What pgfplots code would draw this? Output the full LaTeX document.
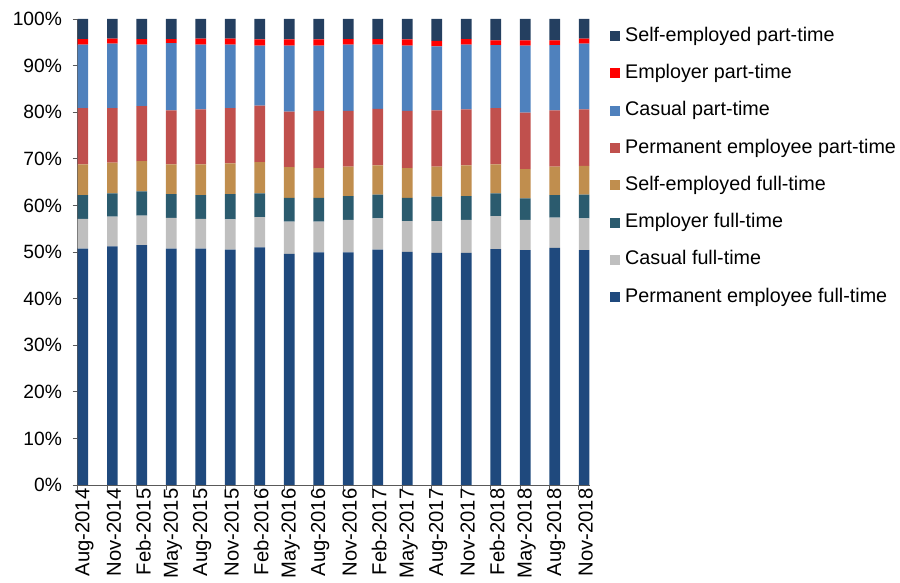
\documentclass[border=0pt]{standalone}
\usepackage{pgfplots}
\pgfplotsset{compat=1.18}
\usepackage{pgfplotstable}
\usepackage{fontspec}
\setmainfont{Liberation Sans}
\definecolor{cPFT}{HTML}{1F497D}
\definecolor{cCFT}{HTML}{BFBFBF}
\definecolor{cEFT}{HTML}{2B5B6E}
\definecolor{cSFT}{HTML}{C08E4E}
\definecolor{cPPT}{HTML}{C0504D}
\definecolor{cCPT}{HTML}{4F81BD}
\definecolor{cEPT}{HTML}{FF0000}
\definecolor{cSPT}{HTML}{243F60}
\pgfplotstableread{
x pft cft eft sft ppt cpt ept spt
0 50.7 6.4 5.1 6.6 12.1 13.6 1.2 4.3
1 51.2 6.4 5.0 6.6 11.7 13.8 1.1 4.2
2 51.5 6.3 5.2 6.5 11.8 13.2 1.2 4.3
3 50.7 6.6 5.1 6.4 11.6 14.4 0.9 4.3
4 50.7 6.4 5.1 6.6 11.8 13.9 1.3 4.2
5 50.5 6.5 5.4 6.6 11.9 13.6 1.3 4.2
6 51.0 6.5 5.1 6.7 12.1 12.9 1.3 4.4
7 49.6 6.9 5.1 6.6 11.9 14.2 1.3 4.4
8 49.9 6.6 5.1 6.4 12.3 14.0 1.3 4.4
9 49.9 7.0 5.1 6.3 12.0 14.2 1.2 4.3
10 50.5 6.7 5.1 6.3 12.1 13.8 1.2 4.3
11 50.0 6.6 5.0 6.4 12.3 14.0 1.3 4.4
12 49.8 6.8 5.3 6.4 12.1 13.7 1.2 4.7
13 49.8 7.1 5.1 6.6 12.0 13.9 1.2 4.3
14 50.6 7.1 4.9 6.2 12.1 13.5 1.0 4.6
15 50.4 6.5 4.6 6.3 12.1 14.4 1.1 4.6
16 50.9 6.5 4.8 6.1 12.1 14.0 1.0 4.6
17 50.4 6.8 5.1 6.2 12.1 14.1 1.1 4.2
}\data
\begin{document}
\begin{tikzpicture}
\path[use as bounding box] (0bp,0bp) rectangle (900bp,583bp);
\begin{axis}[
  at={(77.5bp,98bp)}, anchor=south west,
  scale only axis, width=512bp, height=466bp,
  ybar stacked, bar width=10.6bp,
  xmin=-0.18, xmax=17.18, ymin=0, ymax=100,
  axis x line*=bottom, axis y line*=left,
  axis line style={draw=black!65, line width=0.8bp},
  tick align=outside,
  major tick length=0bp, minor tick length=5bp,
  every tick/.style={draw=black!65, line width=0.8bp},
  xtick={0,...,17},
  minor xtick={-0.18,0.82,1.82,2.82,3.82,4.82,5.82,6.82,7.82,8.82,9.82,10.82,11.82,12.82,13.82,14.82,15.82,16.82},
  xticklabels={Aug-2014,Nov-2014,Feb-2015,May-2015,Aug-2015,Nov-2015,Feb-2016,May-2016,Aug-2016,Nov-2016,Feb-2017,May-2017,Aug-2017,Nov-2017,Feb-2018,May-2018,Aug-2018,Nov-2018},
  xticklabel style={rotate=90, anchor=east, font=\fontsize{20.3}{24}\selectfont, yshift=-1.5bp},
  ytick={0,10,...,100},
  minor ytick={0,10,...,100},
  yticklabels={0\%,10\%,20\%,30\%,40\%,50\%,60\%,70\%,80\%,90\%,100\%},
  yticklabel style={font=\fontsize{19.3}{23}\selectfont, xshift=-12bp},
  reverse legend,
  legend cell align=left,
  legend image code/.code={\fill[#1] (0bp,-5bp) rectangle (10bp,5bp);},
  legend style={at={(1.04,0.983)}, anchor=north west, draw=none, fill=none,
    inner sep=0pt, row sep=19.3bp, column sep=5bp,
    font=\fontsize{19.8}{23}\selectfont,
    nodes={inner sep=0pt, text height=14bp, text depth=4bp, anchor=west}},
]
\addplot[fill=cPFT, draw=none] table[x=x,y=pft]{\data};
\addplot[fill=cCFT, draw=none] table[x=x,y=cft]{\data};
\addplot[fill=cEFT, draw=none] table[x=x,y=eft]{\data};
\addplot[fill=cSFT, draw=none] table[x=x,y=sft]{\data};
\addplot[fill=cPPT, draw=none] table[x=x,y=ppt]{\data};
\addplot[fill=cCPT, draw=none] table[x=x,y=cpt]{\data};
\addplot[fill=cEPT, draw=none] table[x=x,y=ept]{\data};
\addplot[fill=cSPT, draw=none] table[x=x,y=spt]{\data};
\legend{Permanent employee full-time,Casual full-time,Employer full-time,Self-employed full-time,Permanent employee part-time,Casual part-time,Employer part-time,Self-employed part-time}
\end{axis}
\end{tikzpicture}
\end{document}
